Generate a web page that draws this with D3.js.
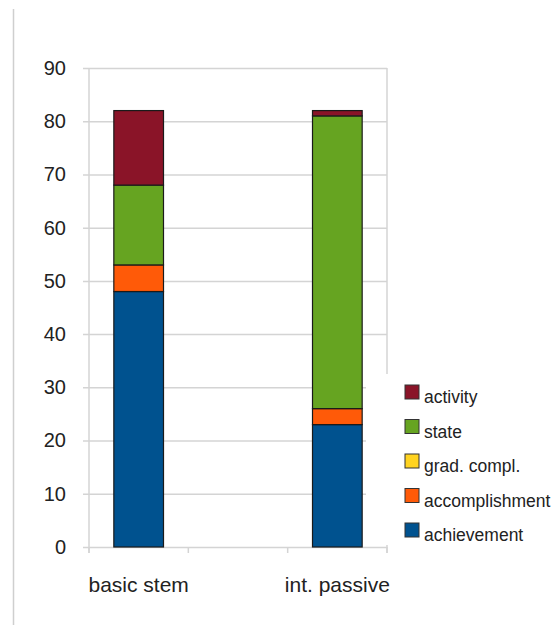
<html>
<head>
  <style>
    body { margin: 0; background: #fff; }
    svg text { font-family: "Liberation Sans", Arial, sans-serif; fill: #222; }
    svg .grid { stroke: #d4d4d4; stroke-width: 1.5px; }
  </style>
</head>
<body>
  <div id="chart"></div>
  <script src="https://d3js.org/d3.v7.min.js"></script>
  <script>
(function () {
  // data
  var categories = ["basic stem", "", "int. passive"];
  var seriesKeys = ["achievement", "accomplishment", "grad. compl.", "state", "activity"];
  var achievement    = [48, 0, 23];
  var accomplishment = [5, 0, 3];
  var gradCompl      = [0, 0, 0];
  var state          = [15, 0, 55];
  var activity       = [14, 0, 1];
  var colors = ["#00528f", "#ff5a08", "#ffd320", "#66a421", "#8a1428"];
  var yTicks = [0, 10, 20, 30, 40, 50, 60, 70, 80, 90];
  var legendOrder = ["activity", "state", "grad. compl.", "accomplishment", "achievement"];

  var rows = categories.map(function (c, i) {
    return {
      cat: c,
      "achievement": achievement[i],
      "accomplishment": accomplishment[i],
      "grad. compl.": gradCompl[i],
      "state": state[i],
      "activity": activity[i]
    };
  });

  var width = 560, height = 625;
  var plot = { left: 89, right: 387, top: 68, bottom: 547 };

  var svg = d3.select("#chart").append("svg")
      .attr("width", width)
      .attr("height", height);

  // page edge line on the left
  svg.append("line")
      .attr("x1", 13.5).attr("x2", 13.5)
      .attr("y1", 9).attr("y2", height)
      .style("stroke", "#cfcfcf")
      .style("stroke-width", "1.5px");

  var x = d3.scaleBand()
      .domain(categories)
      .range([plot.left, plot.right])
      .paddingInner(0.5)
      .paddingOuter(0.25);

  var y = d3.scaleLinear()
      .domain([0, 90])
      .range([plot.bottom, plot.top]);

  var color = d3.scaleOrdinal().domain(seriesKeys).range(colors);

  // horizontal grid + y ticks
  var yAxis = d3.axisLeft(y)
      .tickValues(yTicks)
      .tickSize(plot.right - plot.left + 6)
      .tickPadding(17)
      .tickFormat(d3.format("d"));

  var ya = svg.append("g")
      .attr("transform", "translate(" + plot.right + ",0)")
      .call(yAxis);
  ya.select(".domain").remove();
  ya.selectAll(".tick line").classed("grid", true).attr("stroke", null);
  ya.selectAll(".tick text")
      .style("font-size", "20px")
      .attr("x", -(plot.right - plot.left) - 23);

  // frame: left axis and right border
  svg.append("line")
      .classed("grid", true)
      .attr("x1", plot.left).attr("x2", plot.left)
      .attr("y1", plot.top).attr("y2", plot.bottom + 6);
  svg.append("line")
      .classed("grid", true)
      .attr("x1", plot.right).attr("x2", plot.right)
      .attr("y1", plot.top).attr("y2", plot.bottom + 6);

  // x-axis ticks at band boundaries
  var step = x.step();
  var xTickPos = d3.range(categories.length + 1).map(function (i) {
    return plot.left + i * step;
  });
  svg.selectAll(".xtick")
    .data(xTickPos)
    .enter().append("line")
      .classed("grid", true)
      .attr("x1", function (d) { return d; })
      .attr("x2", function (d) { return d; })
      .attr("y1", plot.bottom)
      .attr("y2", plot.bottom + 6);

  // stacked bars
  var stacked = d3.stack().keys(seriesKeys)(rows);

  svg.append("g")
    .selectAll("g")
    .data(stacked)
    .enter().append("g")
      .attr("fill", function (d) { return color(d.key); })
    .selectAll("rect")
    .data(function (d) { return d.filter(function (p) { return p[1] - p[0] > 0; }); })
    .enter().append("rect")
      .attr("x", function (d) { return x(d.data.cat); })
      .attr("width", x.bandwidth())
      .attr("y", function (d) { return y(d[1]); })
      .attr("height", function (d) { return y(d[0]) - y(d[1]); })
      .attr("stroke", "#1a1a1a")
      .attr("stroke-width", 1.2);

  // category labels
  svg.selectAll(".cat")
    .data(categories)
    .enter().append("text")
      .attr("x", function (d) { return x(d) + x.bandwidth() / 2; })
      .attr("y", 592)
      .attr("text-anchor", "middle")
      .style("font-size", "21px")
      .text(function (d) { return d; });

  // legend
  var legend = svg.append("g");
  legend.append("rect")
      .attr("x", 366).attr("y", 374)
      .attr("width", 194).attr("height", 171)
      .attr("fill", "#fff");

  var item = legend.selectAll(".item")
    .data(legendOrder)
    .enter().append("g")
      .attr("transform", function (d, i) { return "translate(405," + (385 + i * 34.5) + ")"; });

  item.append("rect")
      .attr("width", 14).attr("height", 14)
      .attr("fill", function (d) { return color(d); })
      .attr("stroke", "#333")
      .attr("stroke-width", 1);

  item.append("text")
      .attr("x", 19)
      .attr("y", 18)
      .style("font-size", "17.5px")
      .text(function (d) { return d; });
})();
  </script>
</body>
</html>
